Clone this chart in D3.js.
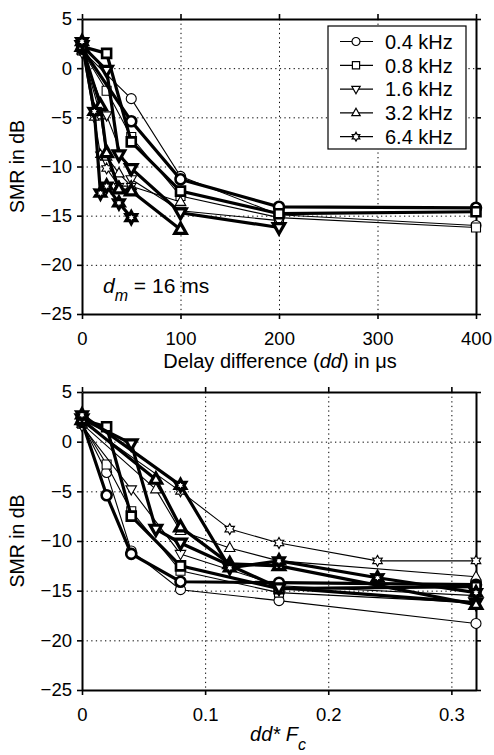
<!DOCTYPE html>
<html>
<head>
<meta charset="utf-8">
<script src="https://cdn.jsdelivr.net/npm/d3@7"></script>
<style>
body { margin: 0; background: #fff; }
svg { display: block; font-family: "Liberation Sans", Arial, sans-serif; }
</style>
</head>
<body>
<svg id="chart" width="494" height="755"></svg>
<script>
const freqLabels = ['0.4 kHz', '0.8 kHz', '1.6 kHz', '3.2 kHz', '6.4 kHz']
const fcKHz = [0.4, 0.8, 1.6, 3.2, 6.4]
const shapes = ['circle', 'square', 'triangleDown', 'triangleUp', 'hexagram']

// delay differences (us) and SMR (dB); thick and thin runs for every frequency
const dd04 = [0, 50, 100, 200, 400, 800]
const smr04Thick = [2.0, -5.4, -11.3, -14.1, -14.2, -14.4]
const smr04Thin = [1.8, -3.1, -11.0, -14.9, -16.0, -18.3]
const dd08 = [0, 25, 50, 100, 200, 400]
const smr08Thick = [2.2, 1.5, -7.5, -12.5, -14.8, -14.6]
const smr08Thin = [1.8, -2.3, -7.0, -13.0, -15.2, -16.2]
const dd16Thick = [0, 25, 37.5, 50, 100, 200]
const smr16Thick = [2.3, -0.2, -8.8, -10.2, -14.7, -16.2]
const dd16Thin = [0, 25, 50, 100, 200]
const smr16Thin = [1.6, -4.8, -11.3, -14.5, -15.5]
const dd32 = [0, 18.75, 25, 37.5, 50, 100]
const smr32Thick = [2.2, -3.8, -8.6, -12.3, -12.5, -16.4]
const smr32Thin = [1.8, -4.8, -9.0, -10.7, -12.0, -13.6]
const dd64 = [0, 12.5, 18.75, 25, 37.5, 50]
const smr64Thick = [2.7, -4.4, -12.7, -12.0, -13.7, -15.2]
const smr64Thin = [2.0, -5.0, -8.8, -10.2, -12.0, -12.0]

const yTicks = [5, 0, -5, -10, -15, -20, -25]
const yGrid = [0, -5, -10, -15, -20]
const xTicksTop = [0, 100, 200, 300, 400]
const xGridTop = [100, 200, 300]
const xTicksBottom = [0, 0.1, 0.2, 0.3]
const xGridBottom = [0.1, 0.2, 0.3]

const series = [
    {k: 0, dd: dd04, smr: smr04Thin, thick: false},
    {k: 1, dd: dd08, smr: smr08Thin, thick: false},
    {k: 2, dd: dd16Thin, smr: smr16Thin, thick: false},
    {k: 3, dd: dd32, smr: smr32Thin, thick: false},
    {k: 4, dd: dd64, smr: smr64Thin, thick: false},
    {k: 0, dd: dd04, smr: smr04Thick, thick: true},
    {k: 1, dd: dd08, smr: smr08Thick, thick: true},
    {k: 2, dd: dd16Thick, smr: smr16Thick, thick: true},
    {k: 3, dd: dd32, smr: smr32Thick, thick: true},
    {k: 4, dd: dd64, smr: smr64Thick, thick: true}
]

function markerPath(shape, r) {
    let p = d3.path()
    if (shape == 'circle') {
        p.moveTo(r, 0)
        p.arc(0, 0, r, 0, 2 * Math.PI)
    } else if (shape == 'square') {
        p.rect(-r * 0.9, -r * 0.9, r * 1.8, r * 1.8)
    } else if (shape == 'triangleUp' || shape == 'triangleDown') {
        let s = shape == 'triangleUp' ? 1 : -1
        p.moveTo(0, -s * r * 1.15)
        p.lineTo(r * 1.05, s * r * 0.7)
        p.lineTo(-r * 1.05, s * r * 0.7)
        p.closePath()
    } else {
        let pts = d3.range(12).map((i) => {
            let a = -Math.PI / 2 + i * Math.PI / 6
            let rr = i % 2 ? r * 0.62 : r * 1.1
            return [rr * Math.cos(a), rr * Math.sin(a)]
        })
        p.moveTo(pts[0][0], pts[0][1])
        pts.slice(1).forEach((q) => p.lineTo(q[0], q[1]))
        p.closePath()
    }
    return p.toString()
}

let svg = d3.select('#chart')
let left = 82, right = 476

let panels = [
    {top: 19, bottom: 314, xDomain: [0, 400], xTicks: xTicksTop, xGrid: xGridTop,
     xOf: (dd, f) => dd, fmt: d3.format('d')},
    {top: 392, bottom: 690, xDomain: [0, 0.32], xTicks: xTicksBottom, xGrid: xGridBottom,
     xOf: (dd, f) => dd * f / 1000, fmt: (d) => d === 0 ? '0' : d3.format('.1f')(d)}
]

panels.forEach((p, pi) => {
    let x = d3.scaleLinear().domain(p.xDomain).range([left, right])
    let y = d3.scaleLinear().domain([-25, 5]).range([p.bottom, p.top])
    let g = svg.append('g')

    // dotted grid
    g.append('g')
        .attr('transform', 'translate(0,' + p.top + ')')
        .call(d3.axisBottom(x).tickValues(p.xGrid).tickSize(p.bottom - p.top).tickFormat(''))
        .call((a) => a.select('.domain').remove())
        .selectAll('line').attr('stroke', '#000').attr('stroke-dasharray', '1.3,3.3')
    g.append('g')
        .attr('transform', 'translate(' + left + ',0)')
        .call(d3.axisRight(y).tickValues(yGrid).tickSize(right - left).tickFormat(''))
        .call((a) => a.select('.domain').remove())
        .selectAll('line').attr('stroke', '#000').attr('stroke-dasharray', '1.3,3.3')

    // axes box with outward ticks
    let axes = [
        g.append('g').attr('transform', 'translate(0,' + p.bottom + ')')
            .call(d3.axisBottom(x).tickValues(p.xTicks).tickSize(5).tickSizeOuter(0).tickPadding(13).tickFormat(p.fmt)),
        g.append('g').attr('transform', 'translate(0,' + p.top + ')')
            .call(d3.axisTop(x).tickValues(p.xTicks).tickSize(5).tickSizeOuter(0).tickFormat('')),
        g.append('g').attr('transform', 'translate(' + left + ',0)')
            .call(d3.axisLeft(y).tickValues(yTicks).tickSize(5).tickSizeOuter(0).tickPadding(5)),
        g.append('g').attr('transform', 'translate(' + right + ',0)')
            .call(d3.axisRight(y).tickValues(yTicks).tickSize(5).tickSizeOuter(0).tickFormat(''))
    ]
    axes.forEach((a) => {
        a.attr('font-size', 18.5).attr('font-family', null)
        a.select('.domain').attr('stroke-width', 2).attr('stroke', '#000')
        a.selectAll('.tick line').attr('stroke-width', 1.6).attr('stroke', '#000')
        a.selectAll('text').attr('fill', '#000')
    })

    // data
    let clipId = 'clip' + pi
    g.append('clipPath').attr('id', clipId)
        .append('rect').attr('x', left).attr('y', p.top)
        .attr('width', right - left).attr('height', p.bottom - p.top)

    let line = d3.line().x((d) => x(d[0])).y((d) => y(d[1]))
    series.forEach((s) => {
        let f = fcKHz[s.k]
        let pts = s.dd.map((dd, i) => [p.xOf(dd, f), s.smr[i]])
        let pointy = s.k >= 2
        g.append('path')
            .attr('clip-path', 'url(#' + clipId + ')')
            .attr('d', line(pts))
            .attr('fill', 'none')
            .attr('stroke', '#000')
            .attr('stroke-width', s.thick ? 3.2 : 1.1)
        g.selectAll(null)
            .data(pts.filter((d) => d[0] <= p.xDomain[1]))
            .enter().append('path')
            .attr('transform', (d) => 'translate(' + x(d[0]) + ',' + y(d[1]) + ')')
            .attr('d', markerPath(shapes[s.k], s.thick && pointy ? 5.5 : 5))
            .attr('fill', '#fff')
            .attr('stroke', '#000')
            .attr('stroke-width', s.thick ? (pointy ? 3.2 : 2.6) : 1.1)
    })

    // y label
    svg.append('text')
        .attr('transform', 'translate(24,' + ((p.top + p.bottom) / 2) + ') rotate(-90)')
        .attr('text-anchor', 'middle')
        .attr('font-size', 19.5)
        .text('SMR in dB')
})

// x labels
let xl1 = svg.append('text').attr('x', 280).attr('y', 368).attr('text-anchor', 'middle').attr('font-size', 20)
xl1.append('tspan').text('Delay difference (')
xl1.append('tspan').attr('font-style', 'italic').text('dd')
xl1.append('tspan').text(') in \u03bcs')

let xl2 = svg.append('text').attr('x', 278).attr('y', 741).attr('text-anchor', 'middle').attr('font-size', 20)
xl2.append('tspan').attr('font-style', 'italic').text('dd* F')
xl2.append('tspan').attr('font-style', 'italic').attr('font-size', 16).attr('dy', 9).text('c')

let dm = svg.append('text').attr('x', 103).attr('y', 293).attr('font-size', 21)
dm.append('tspan').attr('font-style', 'italic').text('d')
dm.append('tspan').attr('font-style', 'italic').attr('font-size', 16).attr('dy', 8).text('m')
dm.append('tspan').attr('dy', -8).text(' = 16 ms')

// legend
let lg = svg.append('g')
lg.append('rect').attr('x', 328).attr('y', 26).attr('width', 138).attr('height', 123)
    .attr('fill', '#fff').attr('stroke', '#000').attr('stroke-width', 1.2)
let rows = lg.selectAll('g.row').data(freqLabels).enter().append('g')
    .attr('class', 'row')
    .attr('transform', (d, i) => 'translate(0,' + (41.5 + i * 23.8) + ')')
rows.append('line').attr('x1', 340).attr('x2', 373).attr('stroke', '#000').attr('stroke-width', 1.2)
rows.append('path').attr('transform', 'translate(356,0)')
    .attr('d', (d, i) => markerPath(shapes[i], 4))
    .attr('fill', '#fff').attr('stroke', '#000').attr('stroke-width', 1.2)
rows.append('text').attr('x', 385).attr('dy', '0.36em').attr('font-size', 20).text((d) => d)
</script>
</body>
</html>
